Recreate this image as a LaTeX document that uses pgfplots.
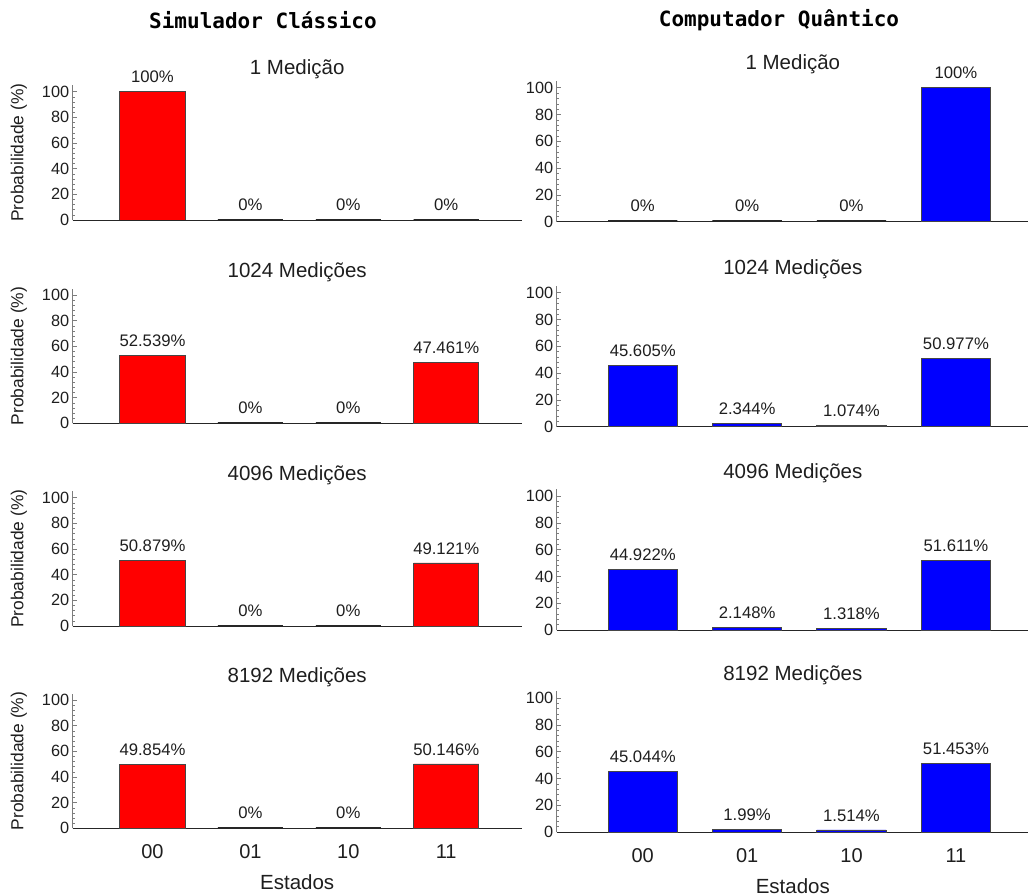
\documentclass[border=0pt]{standalone}
\usepackage{fontspec}
\setmainfont{Liberation Sans}
\newfontfamily\monob{DejaVu Sans Mono}
\usepackage{pgfplots}
\pgfplotsset{compat=1.18}
\definecolor{ygray}{RGB}{125,125,125}
\definecolor{txt}{RGB}{30,30,30}
\definecolor{barline}{RGB}{70,70,70}
\pgfplotsset{
  base/.style={
    scale only axis, anchor=south west,
    ymin=0, ymax=105, ytick={0,20,40,60,80,100}, minor y tick num=4,
    axis x line*=bottom, axis y line*=left,
    x axis line style={black!85, line width=0.9pt},
    y axis line style={ygray, line width=0.6pt},
    tick align=inside,
    major tick length=4pt, minor tick length=2pt,
    ytick style={ygray, line width=0.5pt},
    minor y tick style={ygray, line width=0.5pt},
    xtick={0,1,2,3}, xtick style={draw=none},
    xticklabels={},
    ybar, bar width=0.665, bar shift=0pt,
    nodes near coords, point meta=explicit symbolic,
    every node near coord/.append style={font=\fontsize{16.7}{18}\selectfont, text=txt, yshift=5pt},
    /pgf/number format/assume math mode=true,
    yticklabel style={font=\fontsize{16.3}{18}\selectfont, text=txt},
    title style={font=\fontsize{20.5}{22}\selectfont, text=txt, at={(0.5,1)}, anchor=center, yshift=10.5pt},
  },
  lcol/.style={base, width=449pt, height=134.7pt, xmin=-0.815, xmax=3.771,
    ylabel={Probabilidade (\%)},
    ylabel style={font=\fontsize{17.4}{19}\selectfont, text=txt, at={(axis description cs:-0.12,0.5)}, anchor=center},
  },
  rcol/.style={base, width=472.3pt, height=140.7pt, xmin=-0.824, xmax=3.70},
  bottomrow/.style={xticklabels={00,01,10,11},
    xticklabel style={font=\fontsize{20}{22}\selectfont, text=txt, anchor=center, yshift=-19.5pt},
    xlabel={Estados},
    xlabel style={font=\fontsize{20.5}{22}\selectfont, text=txt, at={(axis description cs:0.5,0)}, anchor=center, yshift=-54pt},
  },
  redbar/.style={fill=red, draw=barline, line width=0.9pt},
  bluebar/.style={fill=blue, draw=barline, line width=0.9pt},
  zerobar/.style={fill=black, draw=black!85, line width=2.6pt},
}
\begin{document}
\begin{tikzpicture}
\path[use as bounding box] (0,0) rectangle (1028pt,-896pt);
\node[font=\monob\bfseries\fontsize{21}{24}\selectfont, text=black] at (263pt,-20pt) {Simulador Clássico};
\node[font=\monob\bfseries\fontsize{21}{24}\selectfont, text=black] at (779pt,-20pt) {Computador Quântico};

% Left column
\begin{axis}[lcol, at={(72.7pt,-220pt)}, title={1 Medição}]
\addplot[redbar] coordinates {(0,100) [100\%]};
\addplot[zerobar] coordinates {(1,0) [0\%] (2,0) [0\%] (3,0) [0\%]};
\end{axis}
\begin{axis}[lcol, at={(72.7pt,-423.3pt)}, title={1024 Medições}]
\addplot[redbar] coordinates {(0,52.539) [52.539\%] (3,47.461) [47.461\%]};
\addplot[zerobar] coordinates {(1,0) [0\%] (2,0) [0\%]};
\end{axis}
\begin{axis}[lcol, at={(72.7pt,-626pt)}, title={4096 Medições}]
\addplot[redbar] coordinates {(0,50.879) [50.879\%] (3,49.121) [49.121\%]};
\addplot[zerobar] coordinates {(1,0) [0\%] (2,0) [0\%]};
\end{axis}
\begin{axis}[lcol, bottomrow, at={(72.7pt,-828.3pt)}, title={8192 Medições}]
\addplot[redbar] coordinates {(0,49.854) [49.854\%] (3,50.146) [50.146\%]};
\addplot[zerobar] coordinates {(1,0) [0\%] (2,0) [0\%]};
\end{axis}

% Right column
\begin{axis}[rcol, at={(556.7pt,-221.7pt)}, title={1 Medição}]
\addplot[bluebar] coordinates {(3,100) [100\%]};
\addplot[zerobar] coordinates {(0,0) [0\%] (1,0) [0\%] (2,0) [0\%]};
\end{axis}
\begin{axis}[rcol, at={(556.7pt,-426.7pt)}, title={1024 Medições}]
\addplot[bluebar] coordinates {(0,45.605) [45.605\%] (1,2.344) [2.344\%] (2,1.074) [1.074\%] (3,50.977) [50.977\%]};
\end{axis}
\begin{axis}[rcol, at={(556.7pt,-630pt)}, title={4096 Medições}]
\addplot[bluebar] coordinates {(0,44.922) [44.922\%] (1,2.148) [2.148\%] (2,1.318) [1.318\%] (3,51.611) [51.611\%]};
\end{axis}
\begin{axis}[rcol, bottomrow, at={(556.7pt,-832pt)}, title={8192 Medições}]
\addplot[bluebar] coordinates {(0,45.044) [45.044\%] (1,1.99) [1.99\%] (2,1.514) [1.514\%] (3,51.453) [51.453\%]};
\end{axis}
\end{tikzpicture}
\end{document}
